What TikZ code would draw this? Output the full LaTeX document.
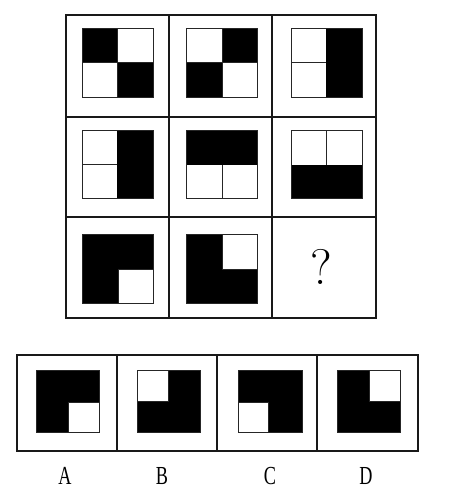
\documentclass[tikz,border=0pt]{standalone}
\usepackage{graphicx}
\usepackage{fontspec}
\newfontfamily\labfont{Liberation Serif}
\begin{document}
\begin{tikzpicture}[x=1pt,y=-1pt,
  gridline/.style={draw=black!90,line width=1.3pt},
  sq/.style={draw=black!85,line width=1pt},
  blk/.style={fill=black},
  wht/.style={fill=white,draw=black!85,line width=1pt},
  lab/.style={font=\labfont\fontsize{26}{26}\selectfont}]
\useasboundingbox (0,0) rectangle (450,502);
% ---- top 3x3 grid ----
\draw[gridline] (66,15) rectangle (376,318);
\draw[gridline] (169,15) -- (169,318);
\draw[gridline] (272,15) -- (272,318);
\draw[gridline] (66,117) -- (376,117);
\draw[gridline] (66,217) -- (376,217);
% row 1, col 1: checkerboard
\fill[blk] (82,29) rectangle (117,63);
\fill[blk] (117,63) rectangle (153,98);
\draw[sq] (82,29) rectangle (153,98);
\draw[sq] (82,63) -- (153,63) (117,29) -- (117,98);
% row 1, col 2: checkerboard reversed
\fill[blk] (222,29) rectangle (257,63);
\fill[blk] (186,63) rectangle (222,98);
\draw[sq] (186,29) rectangle (257,98);
\draw[sq] (186,63) -- (257,63) (222,29) -- (222,98);
% row 1, col 3: right half black
\fill[blk] (326,29) rectangle (362,98);
\draw[sq] (291,29) rectangle (362,98);
\draw[sq] (291,63) -- (326,63);
% row 2, col 1: right half black
\fill[blk] (117,131) rectangle (153,199);
\draw[sq] (82,131) rectangle (153,199);
\draw[sq] (82,165) -- (117,165);
% row 2, col 2: top half black
\fill[blk] (186,131) rectangle (257,165);
\draw[sq] (186,131) rectangle (257,199);
\draw[sq] (222,165) -- (222,199);
% row 2, col 3: bottom half black
\fill[blk] (291,165) rectangle (362,199);
\draw[sq] (291,131) rectangle (362,199);
\draw[sq] (326,131) -- (326,165);
% row 3, col 1: white bottom-right
\fill[blk] (82,234) rectangle (153,303);
\draw[sq] (82,234) rectangle (153,303);
\draw[wht] (118,269) rectangle (153,303);
% row 3, col 2: white top-right
\fill[blk] (186,234) rectangle (257,303);
\draw[sq] (186,234) rectangle (257,303);
\draw[wht] (222,234) rectangle (257,269);
% question mark
\node (q) at (321,267) {\fontsize{50}{50}\selectfont ?};
% ---- options row ----
\draw[gridline] (17,355) rectangle (418,451);
\draw[gridline] (117,355) -- (117,451);
\draw[gridline] (217,355) -- (217,451);
\draw[gridline] (317,355) -- (317,451);
% A
\fill[blk] (36,370) rectangle (99,432);
\draw[sq] (36,370) rectangle (99,432);
\draw[wht] (68,402) rectangle (99,432);
% B
\fill[blk] (137,370) rectangle (200,432);
\draw[sq] (137,370) rectangle (200,432);
\draw[wht] (137,370) rectangle (168,401);
% C
\fill[blk] (238,370) rectangle (302,432);
\draw[sq] (238,370) rectangle (302,432);
\draw[wht] (238,402) rectangle (268,432);
% D
\fill[blk] (337,370) rectangle (400,432);
\draw[sq] (337,370) rectangle (400,432);
\draw[wht] (369,370) rectangle (400,401);
% labels
\node[lab] (la) at (65,476) {\scalebox{0.7}[1]{A}};
\node[lab] (lb) at (162,476) {\scalebox{0.7}[1]{B}};
\node[lab] (lc) at (270,476) {\scalebox{0.7}[1]{C}};
\node[lab] (ld) at (366,476) {\scalebox{0.7}[1]{D}};
\end{tikzpicture}
\end{document}
